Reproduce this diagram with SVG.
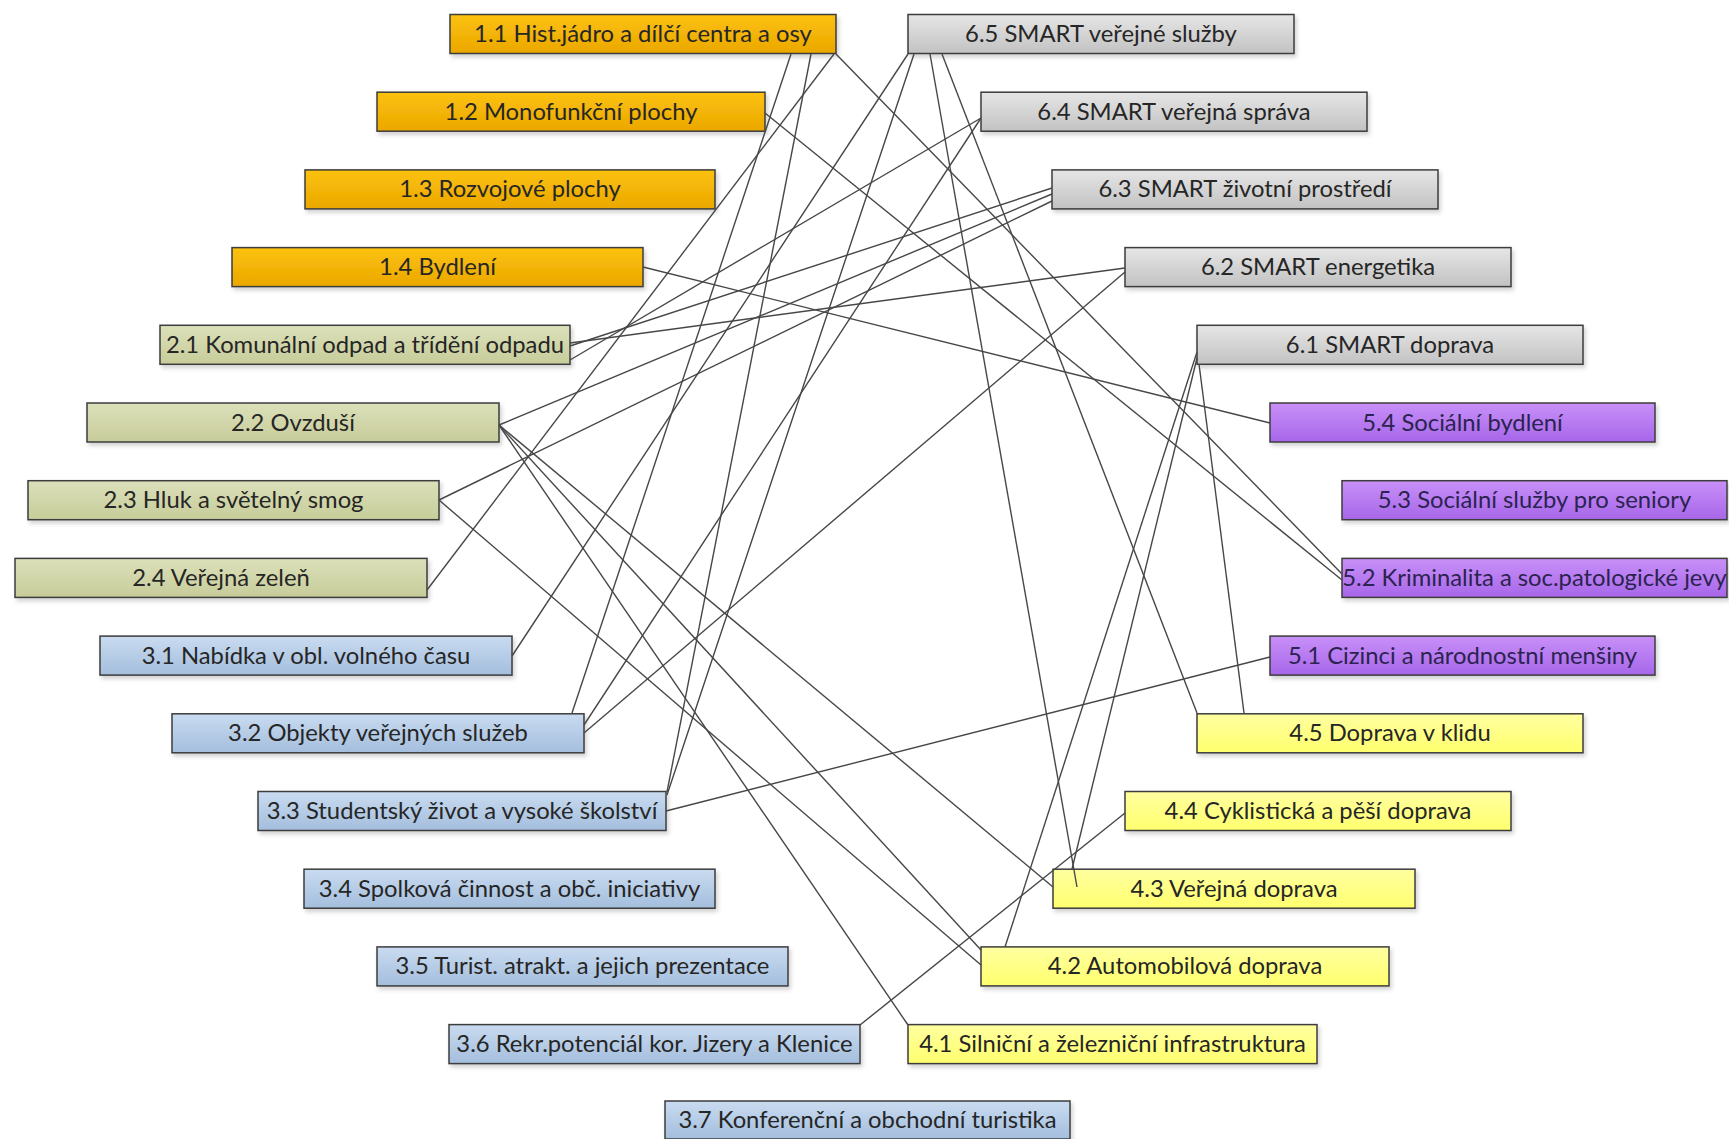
<svg xmlns="http://www.w3.org/2000/svg" width="1729" height="1139" viewBox="0 0 1729 1139">
<defs>
<linearGradient id="gO" x1="0" y1="0" x2="0" y2="1"><stop offset="0" stop-color="#FCC20E"/><stop offset="1" stop-color="#EBA700"/></linearGradient>
<linearGradient id="gG" x1="0" y1="0" x2="0" y2="1"><stop offset="0" stop-color="#DCE0BA"/><stop offset="1" stop-color="#C7CC9A"/></linearGradient>
<linearGradient id="gB" x1="0" y1="0" x2="0" y2="1"><stop offset="0" stop-color="#C9DBF0"/><stop offset="1" stop-color="#A4BEDD"/></linearGradient>
<linearGradient id="gY" x1="0" y1="0" x2="0" y2="1"><stop offset="0" stop-color="#FFFFA0"/><stop offset="1" stop-color="#FFFF6E"/></linearGradient>
<linearGradient id="gP" x1="0" y1="0" x2="0" y2="1"><stop offset="0" stop-color="#C890F8"/><stop offset="1" stop-color="#A766E9"/></linearGradient>
<linearGradient id="gS" x1="0" y1="0" x2="0" y2="1"><stop offset="0" stop-color="#E6E6E6"/><stop offset="1" stop-color="#C2C2C2"/></linearGradient>
<filter id="sh" x="-5%" y="-20%" width="110%" height="150%"><feDropShadow dx="2" dy="3" stdDeviation="2" flood-color="#000" flood-opacity="0.18"/></filter>
</defs>
<style>
.n rect{stroke:#3c3c3c;stroke-width:1.5;filter:url(#sh)}
.o rect{fill:url(#gO)} .g rect{fill:url(#gG)} .b rect{fill:url(#gB)} .y rect{fill:url(#gY)} .p rect{fill:url(#gP)} .s rect{fill:url(#gS)}
.n text{font-family:Lato,"Open Sans","Liberation Sans",sans-serif;font-size:23.8px;fill:#262626;text-anchor:middle}
.p text{fill:#2b2350}
#connectors line{stroke:#474747;stroke-width:1.4;fill:none}
</style>
<rect width="1729" height="1139" fill="#fff"/>
<g id="n11" class="n o"><rect x="450" y="14.5" width="386" height="39"/><text x="643" y="42">1.1 Hist.jádro a dílčí centra a osy</text></g>
<g id="n12" class="n o"><rect x="377" y="92.2" width="388" height="39"/><text x="571" y="119.7">1.2 Monofunkční plochy</text></g>
<g id="n13" class="n o"><rect x="305" y="169.9" width="410" height="39"/><text x="510" y="197.4">1.3 Rozvojové plochy</text></g>
<g id="n14" class="n o"><rect x="232" y="247.6" width="411" height="39"/><text x="437.5" y="275.1">1.4 Bydlení</text></g>
<g id="n21" class="n g"><rect x="160" y="325.3" width="410" height="39"/><text x="365" y="352.8">2.1 Komunální odpad a třídění odpadu</text></g>
<g id="n22" class="n g"><rect x="87" y="403" width="412" height="39"/><text x="293" y="430.5">2.2 Ovzduší</text></g>
<g id="n23" class="n g"><rect x="28" y="480.7" width="411" height="39"/><text x="233.5" y="508.2">2.3 Hluk a světelný smog</text></g>
<g id="n24" class="n g"><rect x="15" y="558.4" width="412" height="39"/><text x="221" y="585.9">2.4 Veřejná zeleň</text></g>
<g id="n31" class="n b"><rect x="100" y="636.1" width="412" height="39"/><text x="306" y="663.6">3.1 Nabídka v obl. volného času</text></g>
<g id="n32" class="n b"><rect x="172" y="713.8" width="412" height="39"/><text x="378" y="741.3">3.2 Objekty veřejných služeb</text></g>
<g id="n33" class="n b"><rect x="258" y="791.5" width="408" height="39"/><text x="462" y="819">3.3 Studentský život a vysoké školství</text></g>
<g id="n34" class="n b"><rect x="304" y="869.2" width="411" height="39"/><text x="509.5" y="896.7">3.4 Spolková činnost a obč. iniciativy</text></g>
<g id="n35" class="n b"><rect x="377" y="946.9" width="411" height="39"/><text x="582.5" y="974.4">3.5 Turist. atrakt. a jejich prezentace</text></g>
<g id="n36" class="n b"><rect x="449" y="1024.6" width="411" height="39"/><text x="654.5" y="1052.1">3.6 Rekr.potenciál kor. Jizery a Klenice</text></g>
<g id="n37" class="n b"><rect x="665" y="1101" width="405" height="38"/><text x="867.5" y="1128">3.7 Konferenční a obchodní turistika</text></g>
<g id="n65" class="n s"><rect x="908" y="14.5" width="386" height="39"/><text x="1101" y="42">6.5 SMART veřejné služby</text></g>
<g id="n64" class="n s"><rect x="981" y="92.2" width="386" height="39"/><text x="1174" y="119.7">6.4 SMART veřejná správa</text></g>
<g id="n63" class="n s"><rect x="1052" y="169.9" width="386" height="39"/><text x="1245" y="197.4">6.3 SMART životní prostředí</text></g>
<g id="n62" class="n s"><rect x="1125" y="247.6" width="386" height="39"/><text x="1318" y="275.1">6.2 SMART energetika</text></g>
<g id="n61" class="n s"><rect x="1197" y="325.3" width="386" height="39"/><text x="1390" y="352.8">6.1 SMART doprava</text></g>
<g id="n54" class="n p"><rect x="1270" y="403" width="385" height="39"/><text x="1462.5" y="430.5">5.4 Sociální bydlení</text></g>
<g id="n53" class="n p"><rect x="1342" y="480.7" width="385" height="39"/><text x="1534.5" y="508.2">5.3 Sociální služby pro seniory</text></g>
<g id="n52" class="n p"><rect x="1342" y="558.4" width="385" height="39"/><text x="1534.5" y="585.9">5.2 Kriminalita a soc.patologické jevy</text></g>
<g id="n51" class="n p"><rect x="1270" y="636.1" width="385" height="39"/><text x="1462.5" y="663.6">5.1 Cizinci a národnostní menšiny</text></g>
<g id="n45" class="n y"><rect x="1197" y="713.8" width="386" height="39"/><text x="1390" y="741.3">4.5 Doprava v klidu</text></g>
<g id="n44" class="n y"><rect x="1125" y="791.5" width="386" height="39"/><text x="1318" y="819">4.4 Cyklistická a pěší doprava</text></g>
<g id="n43" class="n y"><rect x="1053" y="869.2" width="362" height="39"/><text x="1234" y="896.7">4.3 Veřejná doprava</text></g>
<g id="n42" class="n y"><rect x="981" y="946.9" width="408" height="39"/><text x="1185" y="974.4">4.2 Automobilová doprava</text></g>
<g id="n41" class="n y"><rect x="908" y="1024.6" width="409" height="39"/><text x="1112.5" y="1052.1">4.1 Silniční a železniční infrastruktura</text></g>
<g id="connectors">
<line x1="836" y1="54" x2="1342" y2="574"/>
<line x1="765" y1="113" x2="1342" y2="580"/>
<line x1="643" y1="267" x2="1270" y2="423"/>
<line x1="570" y1="343" x2="1125" y2="268"/>
<line x1="570" y1="346" x2="1052" y2="188"/>
<line x1="570" y1="360" x2="981" y2="118"/>
<line x1="499" y1="425" x2="1052" y2="194"/>
<line x1="439" y1="500" x2="1052" y2="201"/>
<line x1="499" y1="425" x2="908" y2="1025"/>
<line x1="499" y1="425" x2="981" y2="950"/>
<line x1="499" y1="425" x2="1053" y2="887"/>
<line x1="439" y1="500" x2="981" y2="965"/>
<line x1="584" y1="733" x2="1125" y2="272"/>
<line x1="666" y1="811" x2="1270" y2="657"/>
<line x1="860" y1="1025" x2="1125" y2="813"/>
<line x1="1197" y1="352" x2="1005" y2="947"/>
<line x1="1197" y1="358" x2="1072" y2="869"/>
<line x1="1199" y1="364" x2="1244" y2="713"/>
<line x1="942" y1="54" x2="1197" y2="713"/>
<line x1="930" y1="54" x2="1077" y2="887"/>
<line x1="908" y1="54" x2="512" y2="656"/>
<line x1="914" y1="54" x2="667" y2="795"/>
<line x1="791" y1="54" x2="572" y2="713"/>
<line x1="811" y1="54" x2="667" y2="792"/>
<line x1="834" y1="54" x2="427" y2="590"/>
<line x1="981" y1="118" x2="584" y2="725"/>
</g>
</svg>
